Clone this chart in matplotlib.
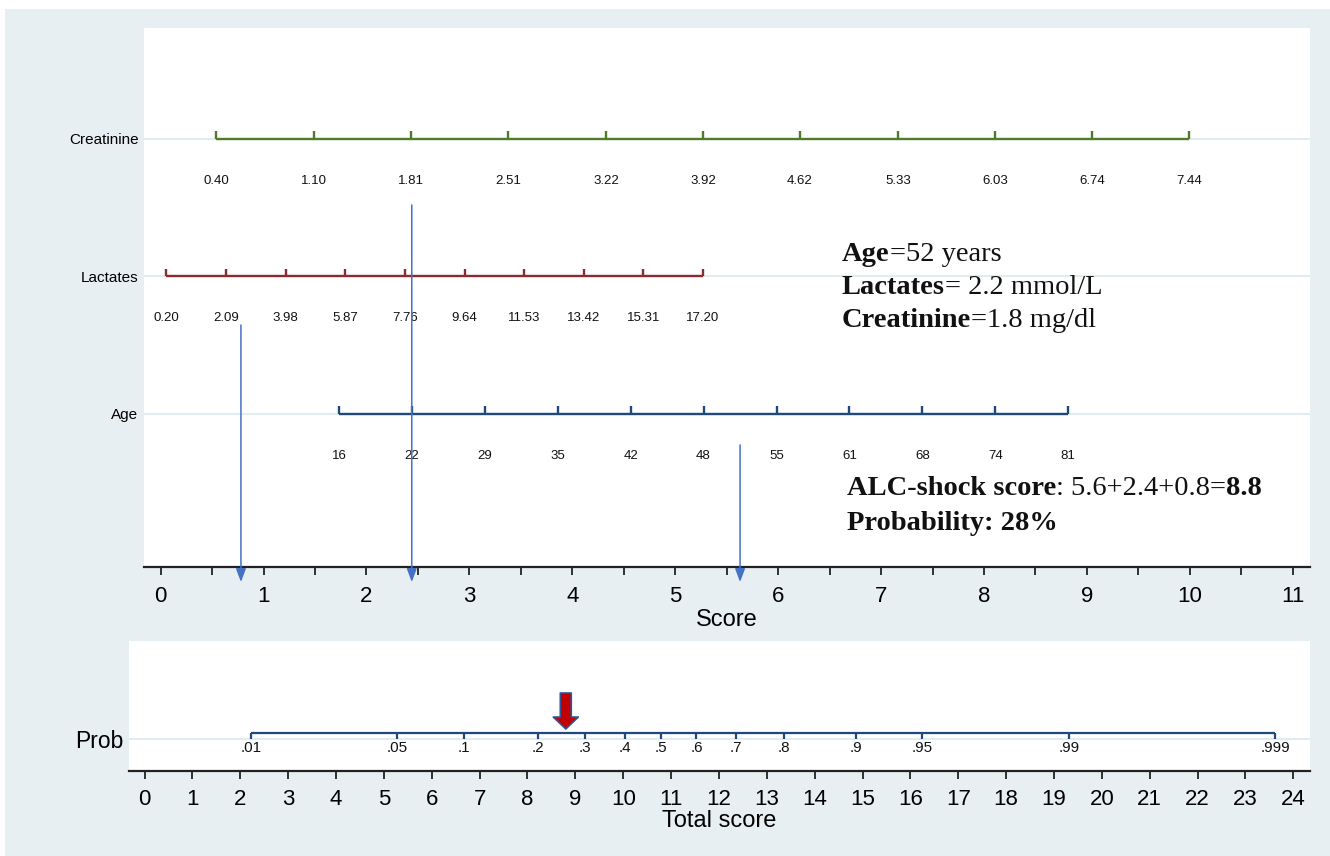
import numpy as np
import matplotlib
matplotlib.use("Agg")
import matplotlib.pyplot as plt
from matplotlib.patches import Rectangle
from matplotlib.ticker import MultipleLocator

# ---------------- data ----------------
rows = ["Creatinine", "Lactates", "Age"]
row_pos = [3, 2, 1]

creat_labels = ["0.40", "1.10", "1.81", "2.51", "3.22", "3.92", "4.62", "5.33", "6.03", "6.74", "7.44"]
creat_scores = [0.537, 1.49, 2.43, 3.375, 4.327, 5.27, 6.21, 7.165, 8.11, 9.05, 9.99]

lact_labels = ["0.20", "2.09", "3.98", "5.87", "7.76", "9.64", "11.53", "13.42", "15.31", "17.20"]
lact_scores = [0.056, 0.636, 1.215, 1.794, 2.374, 2.953, 3.532, 4.112, 4.691, 5.270]

age_labels = ["16", "22", "29", "35", "42", "48", "55", "61", "68", "74", "81"]
age_scores = [1.733, 2.441, 3.150, 3.858, 4.567, 5.275, 5.984, 6.692, 7.401, 8.109, 8.818]

# patient points on the score axis (lactates, creatinine, age)
patient_scores = [0.78, 2.44, 5.63]
patient_start = [1.647, 2.52, 0.775]   # where each pointer line begins (row units)

prob_labels = [".01", ".05", ".1", ".2", ".3", ".4", ".5", ".6", ".7", ".8", ".9", ".95", ".99", ".999"]
prob_scores = [2.22, 5.28, 6.68, 8.22, 9.2, 10.04, 10.78, 11.53, 12.36, 13.36, 14.86, 16.24, 19.32, 23.62]
total_score = 8.8

# ---------------- style ----------------
W, H = 1330, 856
BG = "#e8eff2"
GRID = "#e2ebef"
GREEN = "#4f7a28"
RED = "#8c2b2f"
NAVY = "#1f497d"
ARROW = "#4472c4"
SANS = "Liberation Sans"
SERIF = "Liberation Serif"

fig = plt.figure(figsize=(W / 100, H / 100), dpi=100)
fig.patch.set_facecolor("white")
fig.patches.append(Rectangle((5 / W, 0), 1 - 5 / W, 1 - 9 / H, transform=fig.transFigure,
                             facecolor=BG, edgecolor="none", zorder=-10))

def fx(px):
    return px / W

def fy(py):
    return 1 - py / H

# ---------------- top panel ----------------
ax = fig.add_axes([fx(144), fy(567), (1310 - 144) / W, (567 - 28) / H])
ax.set_facecolor("white")
ax.set_xlim(-0.162, 11.168)
ax.set_ylim(-0.1127, 3.807)
for s in ["top", "right", "left"]:
    ax.spines[s].set_visible(False)
ax.spines["bottom"].set_color("#222222")
ax.spines["bottom"].set_linewidth(1.6)

ax.xaxis.set_major_locator(MultipleLocator(1))
ax.xaxis.set_minor_locator(MultipleLocator(0.5))
ax.tick_params(axis="x", which="both", direction="out", length=6, width=1.3, color="#222222")
ax.tick_params(axis="x", which="major", labelsize=16, pad=8)
for lab in ax.get_xticklabels():
    lab.set_family(SANS)
ax.set_xlabel("Score", fontsize=17, family=SANS, labelpad=1)

ax.set_yticks(row_pos)
ax.set_yticklabels(rows, family=SANS, fontsize=11)
ax.tick_params(axis="y", length=0, pad=4)

tick_h = 0.058
lab_off = 0.305
for r, scores, labels, col in [(3, creat_scores, creat_labels, GREEN),
                               (2, lact_scores, lact_labels, RED),
                               (1, age_scores, age_labels, NAVY)]:
    ax.axhline(r, color=GRID, lw=1.5, zorder=1)
    ax.plot([scores[0], scores[-1]], [r, r], color=col, lw=1.7, zorder=3, solid_capstyle="butt")
    ax.vlines(scores, r, r + tick_h, color=col, lw=1.7, zorder=3)
    for s, l in zip(scores, labels):
        ax.text(s, r - lab_off, l, ha="center", va="center", fontsize=9.5, family=SANS, color="#111111")

for xs, ys in zip(patient_scores, patient_start):
    ax.annotate("", xy=(xs, -0.222), xytext=(xs, ys),
                arrowprops=dict(arrowstyle="-|>,head_length=0.8,head_width=0.3", color=ARROW,
                                lw=1.1, shrinkA=0, shrinkB=0, clip_on=False),
                annotation_clip=False, zorder=5)

# ---------------- bottom panel ----------------
bx = fig.add_axes([fx(128.6), fy(771), (1309.6 - 128.6) / W, (771 - 641) / H])
bx.set_facecolor("white")
bx.set_xlim(-0.334, 24.34)
bx.set_ylim(-32, 98)
for s in ["top", "right", "left"]:
    bx.spines[s].set_visible(False)
bx.spines["bottom"].set_color("#222222")
bx.spines["bottom"].set_linewidth(1.6)
bx.xaxis.set_major_locator(MultipleLocator(1))
bx.tick_params(axis="x", direction="out", length=6, width=1.3, color="#222222", labelsize=16, pad=7)
for lab in bx.get_xticklabels():
    lab.set_family(SANS)
bx.set_xlabel("Total score", fontsize=17, family=SANS, labelpad=0)
bx.set_yticks([0])
bx.set_yticklabels(["Prob"], family=SANS, fontsize=16.5)
bx.tick_params(axis="y", length=0, pad=4)

bx.axhline(0, color=GRID, lw=1.5, zorder=1)
bx.plot([prob_scores[0], prob_scores[-1]], [6, 6], color=NAVY, lw=1.6, zorder=3, solid_capstyle="butt")
bx.vlines(prob_scores, 0.5, 6, color=NAVY, lw=1.6, zorder=3)
for s, l in zip(prob_scores, prob_labels):
    bx.text(s, -2, l, ha="center", va="top", fontsize=11, family=SANS, color="#111111")

bx.annotate("", xy=(total_score, 10), xytext=(total_score, 46),
            arrowprops=dict(arrowstyle="simple,head_length=8.6,head_width=18,tail_width=7.9",
                            mutation_scale=1, facecolor="#c00000", edgecolor="#2f5597",
                            lw=1.2, shrinkA=0, shrinkB=0),
            zorder=6)

# ---------------- rich text annotations ----------------
renderer = fig.canvas.get_renderer()

def rich(x_px, y_px, pieces, size):
    x = x_px
    for txt, weight in pieces:
        t = fig.text(fx(x), fy(y_px), txt, fontsize=size, fontweight=weight,
                     family=SERIF, va="baseline", ha="left", color="#111111")
        bb = t.get_window_extent(renderer)
        x = bb.x1

rich(842, 261, [("Age", "bold"), ("=52 years", "normal")], 20.5)
rich(842, 294, [("Lactates", "bold"), ("= 2.2 mmol/L", "normal")], 20.5)
rich(842, 327, [("Creatinine", "bold"), ("=1.8 mg/dl", "normal")], 20.5)
rich(847, 495, [("ALC-shock score", "bold"), (": 5.6+2.4+0.8=", "normal"), ("8.8", "bold")], 20.5)
rich(847, 530, [("Probability: 28%", "bold")], 20.5)

fig.savefig("out.png", dpi=100, facecolor=fig.get_facecolor())
